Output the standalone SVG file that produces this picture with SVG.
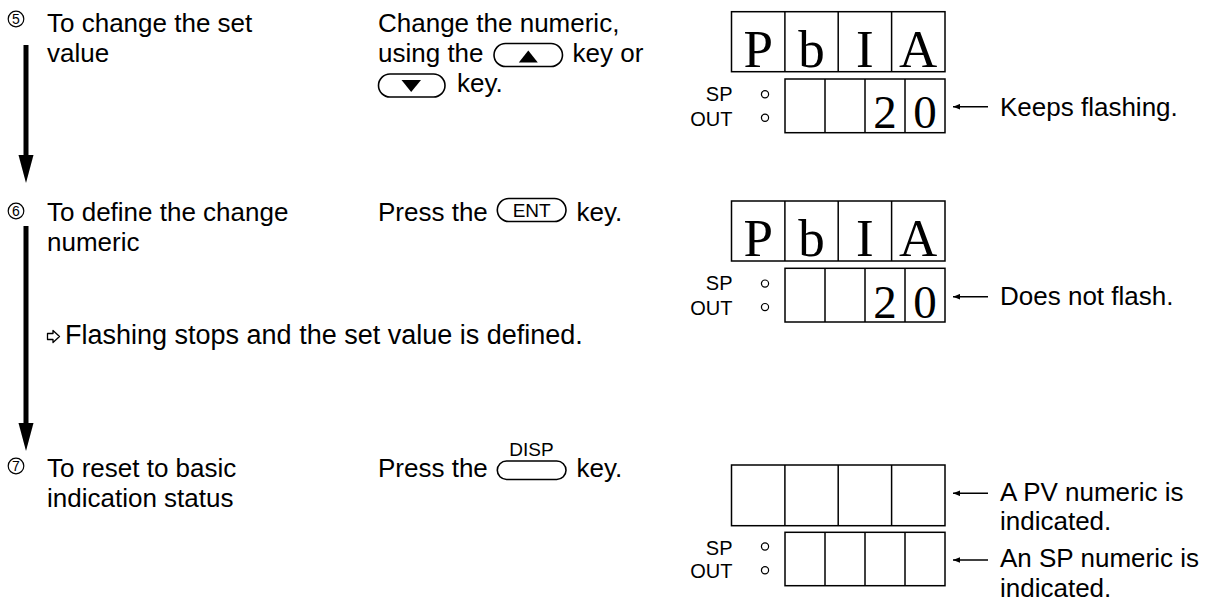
<svg xmlns="http://www.w3.org/2000/svg" width="1210" height="601" viewBox="0 0 1210 601">
<defs>
<style>
.t{font-family:"Liberation Sans",Arial,Helvetica,sans-serif;font-size:26px;fill:#000}
.sm{font-family:"Liberation Sans",Arial,sans-serif;font-size:20px;fill:#000;text-anchor:end}
.num{font-family:"Liberation Sans",Arial,sans-serif;font-size:14px;fill:#000;text-anchor:middle}
.key{font-family:"Liberation Sans",Arial,sans-serif;font-size:19px;fill:#000;text-anchor:middle}
.seg{font-family:"Liberation Serif","Times New Roman",serif;fill:#000;text-anchor:middle}
.box{fill:#fff;stroke:#000;stroke-width:1.5}
.ln{stroke:#000;stroke-width:1.5;fill:none}
.cap{fill:#fff;stroke:#000;stroke-width:1.6}
.led{fill:#fff;stroke:#000;stroke-width:1.2}
.cn{fill:#fff;stroke:#000;stroke-width:1.2}
.ptr{stroke:#000;stroke-width:1.4;fill:none}
</style>
<marker id="sh" viewBox="0 0 10 8" refX="10" refY="4" markerWidth="7" markerHeight="5.6" markerUnits="userSpaceOnUse" orient="auto">
<path d="M0,0 L10,4 L0,8 Z" fill="#000"/>
</marker>
</defs>
<rect width="1210" height="601" fill="#fff"/>

<g id="connectors">
<line x1="26" y1="45" x2="26" y2="157" stroke="#000" stroke-width="5"/>
<polygon points="18.5,155 33.5,155 26,183" fill="#000"/>
<line x1="26" y1="226" x2="26" y2="425" stroke="#000" stroke-width="5"/>
<polygon points="18.5,423 33.5,423 26,451" fill="#000"/>
<line class="ptr" x1="988" y1="106.7" x2="953" y2="106.7" marker-end="url(#sh)"/>
<line class="ptr" x1="988" y1="296.7" x2="953" y2="296.7" marker-end="url(#sh)"/>
<line class="ptr" x1="988" y1="493.3" x2="953" y2="493.3" marker-end="url(#sh)"/>
<line class="ptr" x1="988" y1="560" x2="953" y2="560" marker-end="url(#sh)"/>
</g>

<g id="step5">
<circle class="cn" cx="16" cy="19" r="7.8"/>
<text class="num" x="16" y="24">5</text>
<text class="t" x="47" y="32">To change the set</text>
<text class="t" x="47" y="62">value</text>
</g>

<g id="step5-action">
<text class="t" x="378" y="32">Change the numeric,</text>
<text class="t" x="378" y="62">using the</text>
<rect class="cap" x="494" y="43.5" width="68.5" height="23" rx="11.5"/>
<polygon points="528.3,50.5 537.8,62.5 518.8,62.5" fill="#000"/>
<text class="t" x="572.5" y="62">key or</text>
<rect class="cap" x="378.5" y="74" width="66.5" height="23" rx="11.5"/>
<polygon points="401.5,80 421,80 411.2,92" fill="#000"/>
<text class="t" x="457" y="92">key.</text>
</g>

<g id="display1">
<rect class="box" x="731.5" y="11.7" width="213.5" height="60"/>
<line class="ln" x1="784.9" y1="11.7" x2="784.9" y2="71.7"/>
<line class="ln" x1="838.2" y1="11.7" x2="838.2" y2="71.7"/>
<line class="ln" x1="891.6" y1="11.7" x2="891.6" y2="71.7"/>
<text class="seg" font-size="53" x="758.2" y="66.5">P</text>
<text class="seg" font-size="53" x="811.5" y="66.5">b</text>
<text class="seg" font-size="53" x="864.9" y="66.5">I</text>
<text class="seg" font-size="53" x="918.2" y="66.5">A</text>
<rect class="box" x="785" y="79" width="160" height="53.7"/>
<line class="ln" x1="825" y1="79" x2="825" y2="132.7"/>
<line class="ln" x1="865" y1="79" x2="865" y2="132.7"/>
<line class="ln" x1="905" y1="79" x2="905" y2="132.7"/>
<text class="seg" font-size="47" x="885" y="128.3">2</text>
<text class="seg" font-size="47" x="925" y="128.3">0</text>
<text class="sm" x="732.5" y="101">SP</text>
<text class="sm" x="732.5" y="126">OUT</text>
<circle class="led" cx="765" cy="94.3" r="3.6"/>
<circle class="led" cx="765" cy="117.8" r="3.6"/>
<text class="t" x="1000" y="115.5">Keeps flashing.</text>
</g>

<g id="step6">
<circle class="cn" cx="16" cy="211" r="7.8"/>
<text class="num" x="16" y="216">6</text>
<text class="t" x="47" y="221">To define the change</text>
<text class="t" x="47" y="251">numeric</text>
</g>

<g id="step6-action">
<text class="t" x="378" y="221">Press the</text>
<rect class="cap" x="497.3" y="198.5" width="68.7" height="23" rx="11.5"/>
<text class="key" x="531.7" y="217">ENT</text>
<text class="t" x="576.5" y="221">key.</text>
</g>

<g id="display2">
<rect class="box" x="731.5" y="201" width="213.5" height="60"/>
<line class="ln" x1="784.9" y1="201" x2="784.9" y2="261"/>
<line class="ln" x1="838.2" y1="201" x2="838.2" y2="261"/>
<line class="ln" x1="891.6" y1="201" x2="891.6" y2="261"/>
<text class="seg" font-size="53" x="758.2" y="255.8">P</text>
<text class="seg" font-size="53" x="811.5" y="255.8">b</text>
<text class="seg" font-size="53" x="864.9" y="255.8">I</text>
<text class="seg" font-size="53" x="918.2" y="255.8">A</text>
<rect class="box" x="785" y="268.3" width="160" height="53.7"/>
<line class="ln" x1="825" y1="268.3" x2="825" y2="322"/>
<line class="ln" x1="865" y1="268.3" x2="865" y2="322"/>
<line class="ln" x1="905" y1="268.3" x2="905" y2="322"/>
<text class="seg" font-size="47" x="885" y="317.6">2</text>
<text class="seg" font-size="47" x="925" y="317.6">0</text>
<text class="sm" x="732.5" y="290.3">SP</text>
<text class="sm" x="732.5" y="315.3">OUT</text>
<circle class="led" cx="765" cy="283.6" r="3.6"/>
<circle class="led" cx="765" cy="307.1" r="3.6"/>
<text class="t" x="1000" y="305">Does not flash.</text>
</g>

<g id="note">
<polygon points="47.5,333.5 53,333.5 53,330.5 59.5,336.5 53,342.5 53,339.5 47.5,339.5" fill="#fff" stroke="#000" stroke-width="1.3" stroke-linejoin="round"/>
<text class="t" x="65" y="344" style="font-size:27px">Flashing stops and the set value is defined.</text>
</g>

<g id="step7">
<circle class="cn" cx="16" cy="466" r="7.8"/>
<text class="num" x="16" y="471">7</text>
<text class="t" x="47" y="477">To reset to basic</text>
<text class="t" x="47" y="507">indication status</text>
</g>

<g id="step7-action">
<text class="t" x="378" y="477">Press the</text>
<text class="key" font-size="13" x="531.5" y="456">DISP</text>
<rect class="cap" x="497.3" y="461" width="68.7" height="18.5" rx="9.25"/>
<text class="t" x="576.5" y="477">key.</text>
</g>

<g id="display3">
<rect class="box" x="731.5" y="465" width="213.5" height="60.7"/>
<line class="ln" x1="784.9" y1="465" x2="784.9" y2="525.7"/>
<line class="ln" x1="838.2" y1="465" x2="838.2" y2="525.7"/>
<line class="ln" x1="891.6" y1="465" x2="891.6" y2="525.7"/>
<rect class="box" x="785" y="532.3" width="160" height="53.4"/>
<line class="ln" x1="825" y1="532.3" x2="825" y2="585.7"/>
<line class="ln" x1="865" y1="532.3" x2="865" y2="585.7"/>
<line class="ln" x1="905" y1="532.3" x2="905" y2="585.7"/>
<text class="sm" x="732.5" y="555">SP</text>
<text class="sm" x="732.5" y="577.5">OUT</text>
<circle class="led" cx="765" cy="546.5" r="3.6"/>
<circle class="led" cx="765" cy="570.3" r="3.6"/>
<text class="t" x="1000" y="500.5">A PV numeric is</text>
<text class="t" x="1000" y="530">indicated.</text>
<text class="t" x="1000" y="567">An SP numeric is</text>
<text class="t" x="1000" y="596.5">indicated.</text>
</g>
</svg>
